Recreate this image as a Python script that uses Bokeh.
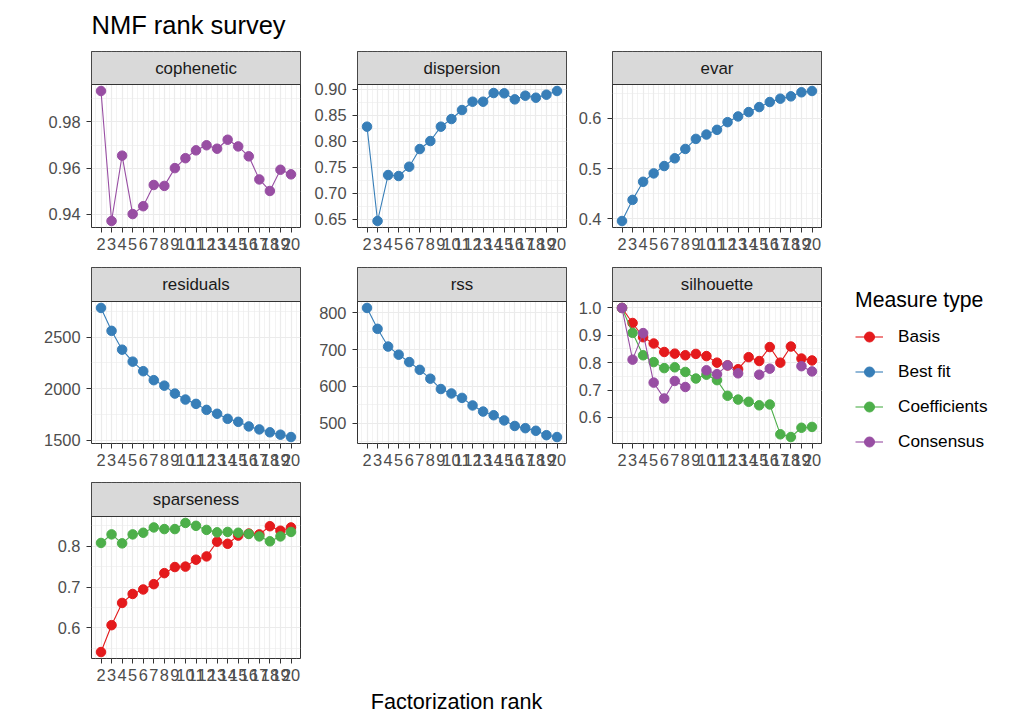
import numpy as np
from bokeh.plotting import figure
from bokeh.models import Range1d, FixedTicker, Label, Legend, LegendItem
from bokeh.layouts import row, column
from bokeh.embed import file_html
from bokeh.resources import INLINE

# ---------------- data ----------------
ranks = [2, 3, 4, 5, 6, 7, 8, 9, 10, 11, 12, 13, 14, 15, 16, 17, 18, 19, 20]
rank_minor = [1.5, 2.5, 3.5, 4.5, 5.5, 6.5, 7.5, 8.5, 9.5, 10.5, 11.5, 12.5,
              13.5, 14.5, 15.5, 16.5, 17.5, 18.5, 19.5, 20.5]

cophenetic_consensus = [0.9934, 0.9371, 0.9654, 0.9401, 0.9435, 0.9527, 0.9523, 0.9600, 0.9643,
                        0.9677, 0.9699, 0.9684, 0.9723, 0.9694, 0.9651, 0.9551, 0.9501, 0.9593, 0.9573]
dispersion_bestfit = [0.8276, 0.6462, 0.7346, 0.7327, 0.7506, 0.7846, 0.8000, 0.8276, 0.8423,
                      0.8596, 0.8756, 0.8756, 0.8923, 0.8917, 0.8801, 0.8872, 0.8833, 0.8891, 0.8962]
evar_bestfit = [0.3953, 0.4375, 0.4736, 0.4903, 0.5050, 0.5204, 0.5391, 0.5592, 0.5679,
                0.5773, 0.5926, 0.6040, 0.6127, 0.6227, 0.6328, 0.6395, 0.6441, 0.6522, 0.6548]
residuals_bestfit = [2783, 2561, 2378, 2262, 2169, 2082, 2029, 1952, 1894,
                     1852, 1794, 1756, 1707, 1678, 1633, 1604, 1576, 1553, 1530]
rss_bestfit = [812.5, 756, 708, 686, 666, 645, 621, 593, 581,
               569, 548.5, 532, 522, 508, 493, 487, 480, 468, 463]
silhouette_basis = [1.000, 0.945, 0.893, 0.870, 0.839, 0.833, 0.827, 0.832, 0.824,
                    0.800, 0.790, 0.776, 0.820, 0.806, 0.857, 0.800, 0.859, 0.815, 0.808]
silhouette_coef = [1.000, 0.909, 0.827, 0.802, 0.780, 0.783, 0.766, 0.742, 0.756,
                   0.736, 0.679, 0.665, 0.657, 0.644, 0.647, 0.538, 0.528, 0.562, 0.565]
silhouette_consensus = [1.000, 0.811, 0.908, 0.727, 0.669, 0.733, 0.711, np.nan, 0.772,
                        0.758, 0.790, 0.761, np.nan, 0.756, 0.778, np.nan, np.nan, 0.787, 0.768]
sparseness_basis = [0.5407, 0.6065, 0.661, 0.683, 0.694, 0.707, 0.734, 0.749, 0.750,
                    0.767, 0.775, 0.811, 0.806, 0.826, 0.831, 0.829, 0.849, 0.838, 0.846]
sparseness_coef = [0.808, 0.829, 0.807, 0.829, 0.833, 0.846, 0.842, 0.842, 0.857,
                   0.850, 0.840, 0.834, 0.835, 0.833, 0.830, 0.824, 0.812, 0.824, 0.835]

measure_types = ["Basis", "Best fit", "Coefficients", "Consensus"]
measure_colors = ["#E41A1C", "#377EB8", "#4DAF4A", "#984EA3"]

cophenetic_ticks = [0.94, 0.96, 0.98]
cophenetic_minor = [0.93, 0.95, 0.97, 0.99]
cophenetic_labels = ["0.94", "0.96", "0.98"]
dispersion_ticks = [0.65, 0.70, 0.75, 0.80, 0.85, 0.90]
dispersion_minor = [0.625, 0.675, 0.725, 0.775, 0.825, 0.875]
dispersion_labels = ["0.65", "0.70", "0.75", "0.80", "0.85", "0.90"]
evar_ticks = [0.4, 0.5, 0.6]
evar_minor = [0.35, 0.45, 0.55, 0.65]
evar_labels = ["0.4", "0.5", "0.6"]
residuals_ticks = [1500, 2000, 2500]
residuals_minor = [1250, 1750, 2250, 2750]
residuals_labels = ["1500", "2000", "2500"]
rss_ticks = [500, 600, 700, 800]
rss_minor = [450, 550, 650, 750]
rss_labels = ["500", "600", "700", "800"]
silhouette_ticks = [0.6, 0.7, 0.8, 0.9, 1.0]
silhouette_minor = [0.55, 0.65, 0.75, 0.85, 0.95]
silhouette_labels = ["0.6", "0.7", "0.8", "0.9", "1.0"]
sparseness_ticks = [0.6, 0.7, 0.8]
sparseness_minor = [0.55, 0.65, 0.75, 0.85]
sparseness_labels = ["0.6", "0.7", "0.8"]

panels = [
    ("cophenetic", [("Consensus", cophenetic_consensus)], cophenetic_ticks, cophenetic_minor, cophenetic_labels),
    ("dispersion", [("Best fit", dispersion_bestfit)], dispersion_ticks, dispersion_minor, dispersion_labels),
    ("evar", [("Best fit", evar_bestfit)], evar_ticks, evar_minor, evar_labels),
    ("residuals", [("Best fit", residuals_bestfit)], residuals_ticks, residuals_minor, residuals_labels),
    ("rss", [("Best fit", rss_bestfit)], rss_ticks, rss_minor, rss_labels),
    ("silhouette", [("Basis", silhouette_basis), ("Coefficients", silhouette_coef),
                    ("Consensus", silhouette_consensus)], silhouette_ticks, silhouette_minor, silhouette_labels),
    ("sparseness", [("Basis", sparseness_basis), ("Coefficients", sparseness_coef)],
     sparseness_ticks, sparseness_minor, sparseness_labels),
]

# ---------------- styling / geometry ----------------
FONT = "Liberation Sans"
AX_SIZE = "16.4px"
STRIP_SIZE = "16.9px"
COLOR_MAP = dict(zip(measure_types, measure_colors))
# (figure width, left border, right border) for each facet column
COLS = [(305, 91, 5), (262, 52, 1), (259, 45, 5)]
# per facet row: (strip height, panel height, bottom border)
ROWS = [(33, 143, 39), (34, 142, 38), (34, 142, 28)]


def key(t):
    return int(t) if float(t).is_integer() else float(t)


def style_axis(ax):
    ax.major_label_text_font = FONT
    ax.major_label_text_font_size = AX_SIZE
    ax.major_label_text_color = "#4d4d4d"
    ax.major_tick_line_color = "#333333"
    ax.major_tick_out = 5
    ax.major_tick_in = 0
    ax.minor_tick_line_color = None
    ax.axis_line_color = None


def make_panel(spec, col, rowgeo):
    name, series, yt, ym, yl = spec
    W, BL, BR = COLS[col]
    strip_h, panel_h, bottom = rowgeo
    allv = np.concatenate([np.asarray(v, dtype=float) for _, v in series])
    allv = allv[~np.isnan(allv)]
    lo, hi = allv.min(), allv.max()
    pad = 0.05 * (hi - lo)
    ylo, yhi = lo - pad, hi + pad
    # frame also hosts the facet strip on top of the panel
    ytop = ylo + (yhi - ylo) * (strip_h + panel_h) / panel_h
    xlo, xhi = min(ranks), max(ranks)
    xpad = 0.05 * (xhi - xlo)
    x0, x1 = xlo - xpad, xhi + xpad
    p = figure(width=W, height=1 + strip_h + panel_h + bottom,
               min_border_left=BL, min_border_right=BR,
               min_border_top=1, min_border_bottom=bottom,
               x_range=Range1d(x0, x1), y_range=Range1d(ylo, ytop),
               output_backend="svg", toolbar_location=None)
    p.outline_line_color = "#333333"
    p.outline_line_width = 1
    p.background_fill_color = "white"
    xt = FixedTicker(ticks=ranks, minor_ticks=rank_minor)
    ytk = FixedTicker(ticks=yt, minor_ticks=ym)
    p.xaxis.ticker = xt
    p.yaxis.ticker = ytk
    p.xgrid.ticker = xt
    p.ygrid.ticker = ytk
    p.yaxis.major_label_overrides = {key(t): l for t, l in zip(yt, yl)}
    for ax in (p.xaxis[0], p.yaxis[0]):
        style_axis(ax)
    p.xaxis.major_label_standoff = 5
    p.yaxis.major_label_standoff = 6
    for g in (p.xgrid[0], p.ygrid[0]):
        g.grid_line_color = "#ebebeb"
        g.grid_line_width = 1.2
        g.minor_grid_line_color = "#ebebeb"
        g.minor_grid_line_width = 0.6
    # facet strip
    p.quad(left=x0, right=x1, bottom=yhi, top=ytop, fill_color="#d9d9d9",
           line_color="#333333", line_width=1)
    p.add_layout(Label(x=(x0 + x1) / 2, y=(yhi + ytop) / 2, text=name, text_align="center",
                       text_baseline="middle", text_font=FONT, text_font_size=STRIP_SIZE,
                       text_color="#1a1a1a"))
    for mtype, vals in series:
        c = COLOR_MAP[mtype]
        yv = np.asarray(vals, dtype=float)
        p.line(ranks, yv, line_color=c, line_width=1.1)
        p.scatter(ranks, yv, size=9.5, fill_color=c, line_color=c)
    return p


MAIN_W = sum(c[0] for c in COLS)
HDR_H = 50
XLAB_H = 28

# header (title)
hdr = figure(width=MAIN_W, height=HDR_H, min_border_left=COLS[0][1], min_border_right=0,
             min_border_top=0, min_border_bottom=0,
             x_range=Range1d(0, 1), y_range=Range1d(0, HDR_H),
             x_axis_type=None, y_axis_type=None, output_backend="svg", toolbar_location=None)
hdr.outline_line_color = None
hdr.grid.visible = False
hdr.add_layout(Label(x=0, y=25.2, text="NMF rank survey", text_align="left",
                     text_baseline="middle", text_font=FONT, text_font_size="25.5px",
                     text_color="black"))

rows = [hdr]
for r in range(3):
    specs = panels[3 * r: 3 * r + 3]
    rows.append(row(*[make_panel(sp, i, ROWS[r]) for i, sp in enumerate(specs)], spacing=0))

# x axis title
xlab = figure(width=MAIN_W, height=XLAB_H, min_border_left=COLS[0][1], min_border_right=5,
              min_border_top=0, min_border_bottom=0,
              x_range=Range1d(0, 1), y_range=Range1d(0, XLAB_H),
              x_axis_type=None, y_axis_type=None, output_backend="svg", toolbar_location=None)
xlab.outline_line_color = None
xlab.grid.visible = False
xlab.add_layout(Label(x=0.5, y=12.8, text="Factorization rank", text_align="center",
                      text_baseline="middle", text_font=FONT, text_font_size="21.6px",
                      text_color="black"))
rows.append(xlab)

main_col = column(*rows, spacing=0)
TOTAL_H = HDR_H + sum(1 + s + ph + b for s, ph, b in ROWS) + XLAB_H

# legend
lf = figure(width=192, height=TOTAL_H, min_border_left=29, min_border_right=0,
            min_border_top=288, min_border_bottom=0,
            x_range=Range1d(0, 1), y_range=Range1d(0, 1),
            x_axis_type=None, y_axis_type=None, output_backend="svg", toolbar_location=None)
lf.outline_line_color = None
lf.grid.visible = False
items = []
for mtype, c in zip(measure_types, measure_colors):
    lr = lf.line(x=[np.nan], y=[np.nan], line_color=c, line_width=1.1)
    sr = lf.scatter(x=[np.nan], y=[np.nan], size=9.5, fill_color=c, line_color=c)
    items.append(LegendItem(label=mtype, renderers=[lr, sr]))
legend = Legend(items=items, location="top_left", title="Measure type",
                margin=0, padding=0, border_line_color=None, background_fill_alpha=0,
                title_text_font=FONT, title_text_font_size="21.2px", title_text_font_style="normal",
                title_text_color="black", title_standoff=12,
                label_text_font=FONT, label_text_font_size="17.2px", label_text_color="black",
                glyph_width=28, glyph_height=25, label_height=25, spacing=10, label_standoff=15)
lf.add_layout(legend, "center")

root = row(main_col, lf, spacing=0)

open("out.html", "w").write(file_html(root, INLINE))
